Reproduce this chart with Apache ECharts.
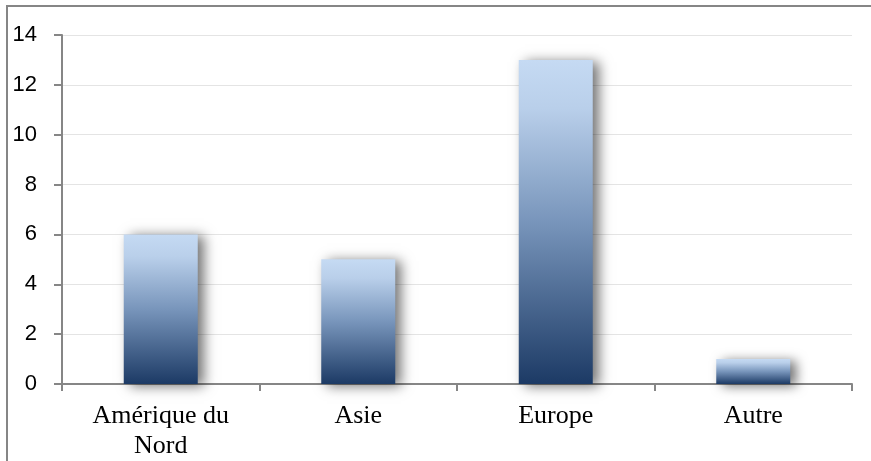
<!DOCTYPE html>
<html>
<head>
<meta charset="utf-8">
<script src="https://cdn.jsdelivr.net/npm/echarts@6/dist/echarts.min.js"></script>
<style>
html,body{margin:0;padding:0;background:#fff;}
#c{width:871px;height:461px;}
</style>
</head>
<body>
<div id="c"></div>
<script>
const categories = ['Amérique du\nNord', 'Asie', 'Europe', 'Autre'];
const values = [6, 5, 13, 1];
const yTicks = { min: 0, max: 14, interval: 2 };

const chart = echarts.init(document.getElementById('c'), null, { renderer: 'canvas' });
chart.setOption({
  animation: false,
  backgroundColor: '#ffffff',
  graphic: [{
    type: 'polyline',
    shape: { points: [[7, 470], [7, 6], [871, 6]] },
    style: { stroke: '#868686', lineWidth: 2, fill: null },
    silent: true
  }],
  grid: { left: 62, right: 19, top: 35, bottom: 76, containLabel: false },
  xAxis: {
    type: 'category',
    data: categories,
    axisLine: { lineStyle: { color: '#868686', width: 2 } },
    axisTick: { show: true, length: 7, lineStyle: { color: '#868686', width: 2 } },
    axisLabel: {
      fontFamily: '"Liberation Serif", "Times New Roman", serif',
      fontSize: 26,
      lineHeight: 30,
      color: '#000',
      margin: 17,
      interval: 0
    }
  },
  yAxis: {
    type: 'value',
    min: yTicks.min, max: yTicks.max, interval: yTicks.interval,
    axisLine: { show: true, lineStyle: { color: '#868686', width: 2 } },
    axisTick: { show: true, length: 8, lineStyle: { color: '#868686', width: 2 } },
    axisLabel: {
      fontFamily: '"Liberation Sans", Arial, sans-serif',
      fontSize: 22,
      color: '#000',
      margin: 25
    },
    splitLine: { lineStyle: { color: '#e4e4e4', width: 1 } }
  },
  series: [{
    type: 'bar',
    data: values,
    barWidth: 74,
    itemStyle: {
      color: new echarts.graphic.LinearGradient(0, 0, 0, 1, [
        { offset: 0, color: '#c5daf3' },
        { offset: 0.15, color: '#b9cfea' },
        { offset: 0.5, color: '#7895bb' },
        { offset: 1, color: '#1c3a65' }
      ]),
      shadowColor: 'rgba(0,0,0,0.55)',
      shadowBlur: 12,
      shadowOffsetX: 6,
      shadowOffsetY: 2
    }
  }]
});
</script>
</body>
</html>
